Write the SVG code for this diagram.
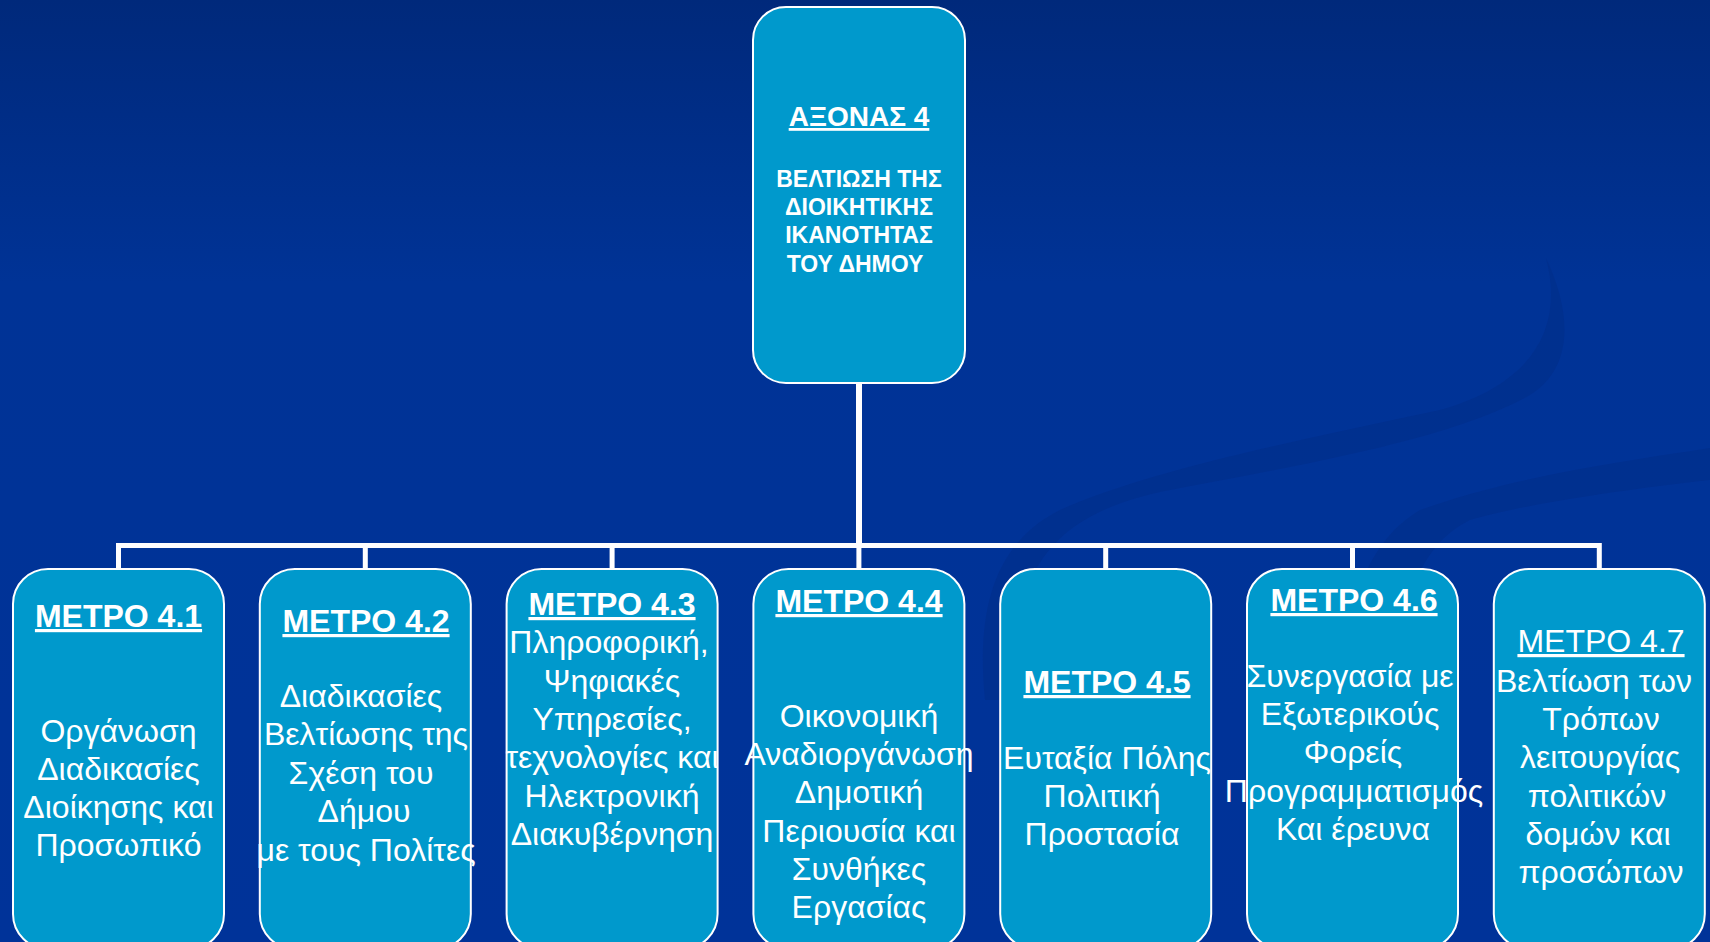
<svg xmlns="http://www.w3.org/2000/svg" width="1710" height="942" viewBox="0 0 1710 942">
<defs>
<linearGradient id="bg" x1="0" y1="0" x2="0" y2="1">
<stop offset="0" stop-color="#00297B"/>
<stop offset="0.3" stop-color="#003396"/>
<stop offset="1" stop-color="#003399"/>
</linearGradient>
<style>
.node rect{fill:#0099CC;stroke:#FFFFFF;stroke-width:2}
text{fill:#FFFFFF;font-family:"Liberation Sans",Arial,sans-serif;text-anchor:middle}
.hd{font-size:28px;font-weight:bold;text-decoration:underline}
.sb{font-size:23px;font-weight:bold}
.t{font-size:32px;font-weight:bold;text-decoration:underline}
.tn{font-size:32px;text-decoration:underline}
.b{font-size:32px}
.con{fill:none;stroke:#FFFFFF;stroke-linejoin:miter}
.band{fill:#002C86;opacity:0.45}
</style>
</defs>
<rect x="0" y="0" width="1710" height="942" fill="url(#bg)"/>
<g id="background">
<path class="band" d="M985 700 C975 600 1000 540 1060 510 C1150 470 1300 440 1440 410 C1530 385 1565 330 1546 258 C1575 320 1570 370 1530 395 C1450 440 1300 465 1160 492 C1060 515 1010 560 1010 700 Z"/>
<path class="band" d="M1340 700 C1345 600 1370 540 1420 510 C1520 475 1620 462 1710 448 L1710 480 C1620 490 1520 505 1470 520 C1420 545 1400 600 1395 700 Z"/>
</g>
<g id="connectors">
<path class="con" stroke-width="6" d="M859 383 V545.5"/>
<path class="con" stroke-width="5" d="M118.5 569 V545.5 H1599.3 V569"/>
<path class="con" stroke-width="5" d="M365.3 545.5 V569 M612.1 545.5 V569 M858.9 545.5 V569 M1105.7 545.5 V569 M1352.5 545.5 V569"/>
</g>
<g id="axis4" class="node">
<rect x="753" y="7" width="212" height="376" rx="33"/>
<text class="hd" x="859" y="126">ΑΞΟΝΑΣ 4</text>
<text class="sb" x="859" y="187">ΒΕΛΤΙΩΣΗ ΤΗΣ</text>
<text class="sb" x="859" y="215">ΔΙΟΙΚΗΤΙΚΗΣ</text>
<text class="sb" x="859" y="243">ΙΚΑΝΟΤΗΤΑΣ</text>
<text class="sb" x="855" y="272">ΤΟΥ ΔΗΜΟΥ</text>
</g>
<g id="m41" class="node">
<rect x="13" y="569" width="211" height="380" rx="35"/>
<text class="t" x="118.5" y="627">ΜΕΤΡΟ 4.1</text>
<text class="b" x="118.5" y="742">Οργάνωση</text>
<text class="b" x="118.5" y="780">Διαδικασίες</text>
<text class="b" x="118.5" y="818">Διοίκησης και</text>
<text class="b" x="118.5" y="856">Προσωπικό</text>
</g>
<g id="m42" class="node">
<rect x="259.8" y="569" width="211" height="380" rx="35"/>
<text class="t" x="366" y="632">ΜΕΤΡΟ 4.2</text>
<text class="b" x="361" y="707">Διαδικασίες</text>
<text class="b" x="366" y="745">Βελτίωσης της</text>
<text class="b" x="361" y="784">Σχέση του</text>
<text class="b" x="364" y="822">Δήμου</text>
<text class="b" x="366" y="861">με τους Πολίτες</text>
</g>
<g id="m43" class="node">
<rect x="506.6" y="569" width="211" height="380" rx="35"/>
<text class="t" x="612" y="615">ΜΕΤΡΟ 4.3</text>
<text class="b" x="609" y="653">Πληροφορική,</text>
<text class="b" x="612" y="692">Ψηφιακές</text>
<text class="b" x="612" y="730">Υπηρεσίες,</text>
<text class="b" x="612" y="768">τεχνολογίες και</text>
<text class="b" x="612" y="807">Ηλεκτρονική</text>
<text class="b" x="612" y="845">Διακυβέρνηση</text>
</g>
<g id="m44" class="node">
<rect x="753.4" y="569" width="211" height="380" rx="35"/>
<text class="t" x="859" y="612">ΜΕΤΡΟ 4.4</text>
<text class="b" x="859" y="727">Οικονομική</text>
<text class="b" x="859" y="765">Αναδιοργάνωση</text>
<text class="b" x="859" y="803">Δημοτική</text>
<text class="b" x="859" y="842">Περιουσία και</text>
<text class="b" x="859" y="880">Συνθήκες</text>
<text class="b" x="859" y="918">Εργασίας</text>
</g>
<g id="m45" class="node">
<rect x="1000.2" y="569" width="211" height="380" rx="35"/>
<text class="t" x="1107" y="693">ΜΕΤΡΟ 4.5</text>
<text class="b" x="1107" y="769">Ευταξία Πόλης</text>
<text class="b" x="1102" y="807">Πολιτική</text>
<text class="b" x="1102" y="845">Προστασία</text>
</g>
<g id="m46" class="node">
<rect x="1247" y="569" width="211" height="380" rx="35"/>
<text class="t" x="1354" y="611">ΜΕΤΡΟ 4.6</text>
<text class="b" x="1350" y="687">Συνεργασία με</text>
<text class="b" x="1350" y="725">Εξωτερικούς</text>
<text class="b" x="1353" y="763">Φορείς</text>
<text class="b" x="1354" y="802">Προγραμματισμός</text>
<text class="b" x="1353" y="840">Και έρευνα</text>
</g>
<g id="m47" class="node">
<rect x="1493.8" y="569" width="211" height="380" rx="35"/>
<text class="tn" x="1601" y="652">ΜΕΤΡΟ 4.7</text>
<text class="b" x="1594" y="692">Βελτίωση των</text>
<text class="b" x="1601" y="730">Τρόπων</text>
<text class="b" x="1600" y="768">λειτουργίας</text>
<text class="b" x="1597" y="807">πολιτικών</text>
<text class="b" x="1598" y="845">δομών και</text>
<text class="b" x="1601" y="883">προσώπων</text>
</g>
</svg>
